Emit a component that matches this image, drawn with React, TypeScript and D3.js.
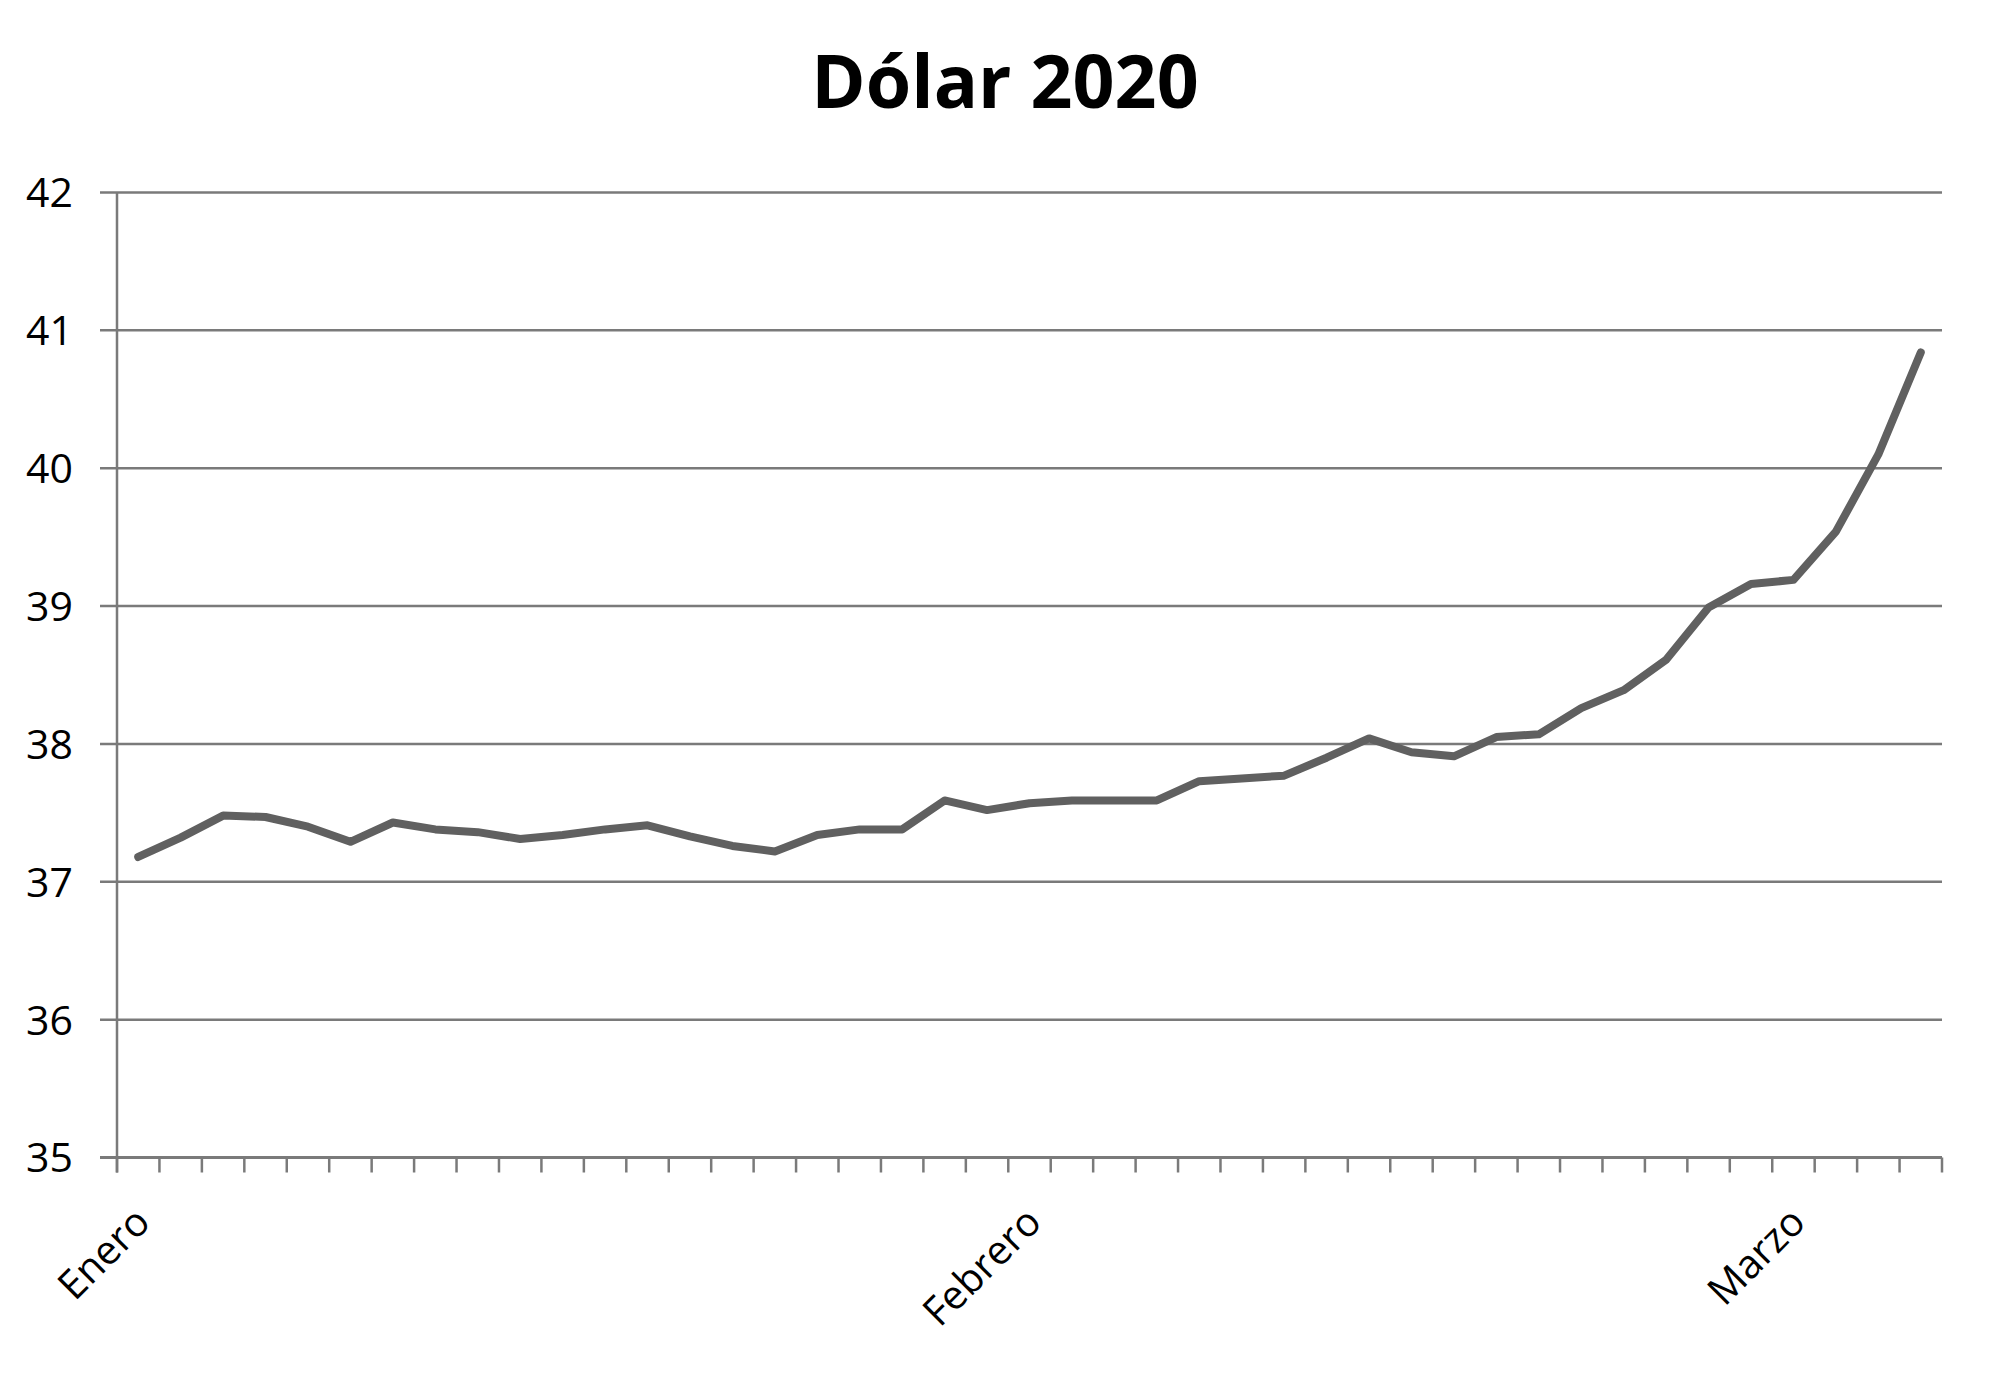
import React, { useEffect } from 'react';
import * as d3 from 'd3';

// cotización diaria (43 puntos)
const valores = [
    37.18, 37.32, 37.48, 37.47, 37.40, 37.29, 37.43, 37.38, 37.36, 37.31,
    37.34, 37.38, 37.41, 37.33, 37.26, 37.22, 37.34, 37.38, 37.38, 37.59,
    37.52, 37.57, 37.59, 37.59, 37.59, 37.73, 37.75, 37.77, 37.90, 38.04,
    37.94, 37.91, 38.05, 38.07, 38.26, 38.39, 38.61, 38.99, 39.16, 39.19,
    39.54, 40.10, 40.84
];

const meses = ['Enero', 'Febrero', 'Marzo'];
const indicesMes = [0, 21, 39];

const ticksY = [35, 36, 37, 38, 39, 40, 41, 42];

const titulo = 'Dólar 2020';

export default function App() {
    useEffect(() => {
        document.body.style.margin = '0';
    }, []);

    const width = 2000;
    const height = 1391;
    const left = 117;
    const right = 1942;
    const top = 192.5;
    const bottom = 1157.5;
    const font = '"Open Sans", "DejaVu Sans", sans-serif';

    const x = d3.scaleBand<number>()
        .domain(d3.range(valores.length))
        .range([left, right])
        .paddingInner(0)
        .paddingOuter(0);
    const bw = x.bandwidth();
    const cx = (i: number) => (x(i) ?? 0) + bw / 2;

    const y = d3.scaleLinear().domain([35, 42]).range([bottom, top]);

    const line = d3.line<number>()
        .x((_, i) => cx(i))
        .y((d) => y(d));

    const bordes = d3.range(valores.length + 1).map((i) => left + i * bw);

    return (
        <svg width={width} height={height} style={{ display: 'block', background: '#fff' }}>
            <text
                x={1005}
                y={108}
                textAnchor="middle"
                fontFamily={font}
                fontWeight={700}
                fontSize={73.5}
                fill="#000"
            >
                {titulo}
            </text>

            {/* grid + y ticks */}
            {ticksY.map((t) => (
                <g key={t}>
                    <line
                        x1={100}
                        x2={right}
                        y1={y(t)}
                        y2={y(t)}
                        stroke="#7a7a7a"
                        strokeWidth={t === 35 ? 3 : 2.5}
                    />
                    <text
                        x={73}
                        y={y(t) + 4}
                        textAnchor="end"
                        dominantBaseline="middle"
                        fontFamily={font}
                        fontSize={41}
                        fill="#000"
                    >
                        {t}
                    </text>
                </g>
            ))}

            {/* y axis */}
            <line x1={left} x2={left} y1={top} y2={bottom + 15} stroke="#7a7a7a" strokeWidth={2.5} />

            {/* x ticks */}
            {bordes.map((b, i) => (
                <line key={i} x1={b} x2={b} y1={bottom} y2={bottom + 15} stroke="#7a7a7a" strokeWidth={2.5} />
            ))}

            {/* month labels */}
            {meses.map((m, k) => {
                const px = cx(indicesMes[k]) + 14;
                const py = bottom + 67;
                return (
                    <text
                        key={m}
                        transform={`translate(${px}, ${py}) rotate(-45)`}
                        textAnchor="end"
                        fontFamily={font}
                        fontSize={40}
                        fill="#000"
                    >
                        {m}
                    </text>
                );
            })}

            <path
                d={line(valores) ?? ''}
                fill="none"
                stroke="#606060"
                strokeWidth={8}
                strokeLinejoin="round"
                strokeLinecap="round"
            />
        </svg>
    );
}
